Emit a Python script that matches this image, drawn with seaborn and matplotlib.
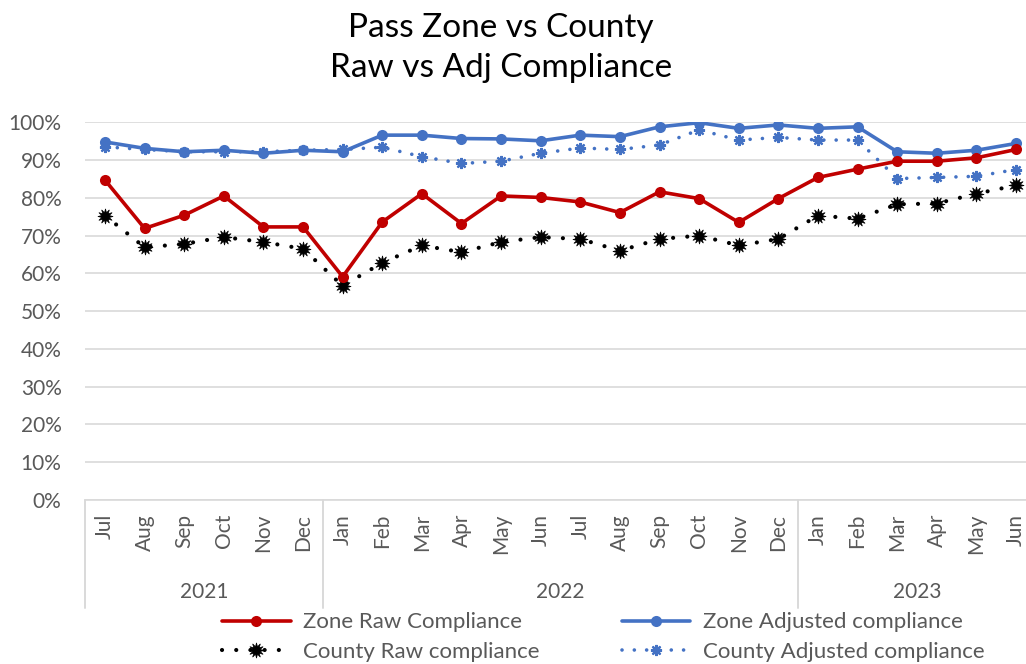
import numpy as np
import pandas as pd
import matplotlib
matplotlib.use("Agg")
import matplotlib.pyplot as plt
import matplotlib.transforms as mtransforms
from matplotlib.ticker import PercentFormatter, MultipleLocator
import seaborn as sns

months = ["Jul", "Aug", "Sep", "Oct", "Nov", "Dec",
          "Jan", "Feb", "Mar", "Apr", "May", "Jun", "Jul", "Aug", "Sep", "Oct", "Nov", "Dec",
          "Jan", "Feb", "Mar", "Apr", "May", "Jun"]
years = ["2021", "2022", "2023"]
months_per_year = [6, 12, 6]

zone_raw = [84.7, 71.9, 75.4, 80.5, 72.3, 72.3, 59.1, 73.6, 81.1, 73.2, 80.5, 80.1,
            78.9, 76.1, 81.6, 79.8, 73.5, 79.8, 85.4, 87.6, 89.7, 89.7, 90.6, 92.8]
zone_adj = [94.8, 93.1, 92.2, 92.6, 91.8, 92.6, 92.2, 96.6, 96.6, 95.7, 95.6, 95.1,
            96.6, 96.2, 98.8, 99.9, 98.4, 99.3, 98.4, 98.8, 92.2, 91.8, 92.6, 94.4]
county_raw = [75.3, 66.9, 67.8, 69.6, 68.3, 66.5, 56.7, 62.8, 67.4, 65.6, 68.3, 69.6,
              69.1, 66.0, 69.1, 70.0, 67.4, 69.1, 75.3, 74.5, 78.3, 78.5, 81.1, 83.3]
county_adj = [93.5, 92.8, 92.2, 92.2, 92.2, 92.6, 92.8, 93.4, 90.9, 89.1, 89.7, 91.8,
              93.2, 92.8, 94.0, 98.0, 95.3, 96.0, 95.3, 95.3, 85.1, 85.4, 85.7, 87.5]

series_names = ["Zone Raw Compliance", "County Raw compliance",
                "Zone Adjusted compliance", "County Adjusted compliance"]

RED = "#C00000"
BLUE = "#4472C4"
GRID = "#D9D9D9"
TEXT = "#595959"

sns.set_theme(style="white")
plt.rcParams["font.family"] = ["Lato", "DejaVu Sans"]

pos = np.arange(len(months))
df = pd.DataFrame({"pos": pos, "zone_raw": zone_raw, "zone_adj": zone_adj,
                   "county_raw": county_raw, "county_adj": county_adj})

fig = plt.figure(figsize=(10.26, 6.64), dpi=100)
ax = fig.add_axes([85.2 / 1026, 164 / 664, 950.6 / 1026, 377.7 / 664])

dotted = (0, (0.01, 3.4))

sns.lineplot(data=df, x="pos", y="county_adj", ax=ax, color=BLUE, lw=2.6,
             linestyle=dotted, dash_capstyle="round", marker=(8, 2, 0),
             markersize=8, markeredgewidth=1.6, markeredgecolor=BLUE,
             label=series_names[3], zorder=2)
sns.lineplot(data=df, x="pos", y="county_raw", ax=ax, color="black", lw=3.0,
             linestyle=dotted, dash_capstyle="round", marker=(12, 1, 0),
             markersize=11, markeredgewidth=0.5, markeredgecolor="black",
             label=series_names[1], zorder=2)
sns.lineplot(data=df, x="pos", y="zone_adj", ax=ax, color=BLUE, lw=2.6,
             marker="o", markersize=8, markeredgewidth=0,
             label=series_names[2], zorder=3)
sns.lineplot(data=df, x="pos", y="zone_raw", ax=ax, color=RED, lw=2.6,
             marker="o", markersize=8, markeredgewidth=0,
             label=series_names[0], zorder=3)

ax.set_xlim(-0.5, len(months) - 0.5)
ax.set_ylim(0, 100)
ax.yaxis.set_major_locator(MultipleLocator(10))
ax.yaxis.set_major_formatter(PercentFormatter(xmax=100, decimals=0))
ax.grid(axis="y", color=GRID, lw=1.2)
ax.set_axisbelow(True)
for side in ["top", "right", "left"]:
    ax.spines[side].set_visible(False)
ax.spines["bottom"].set_color(GRID)
ax.spines["bottom"].set_linewidth(1.2)

ax.set_xticks(pos)
ax.set_xticklabels(months, rotation=90, fontsize=15, color=TEXT)
ax.tick_params(axis="x", length=0, pad=10)
ax.tick_params(axis="y", length=0, pad=17, labelsize=15, labelcolor=TEXT)
ax.set_xlabel("")
ax.set_ylabel("")

# Year grouping below the month labels
trans = mtransforms.blended_transform_factory(ax.transData, ax.transAxes)
edges = np.concatenate([[0], np.cumsum(months_per_year)]) - 0.5
for e in edges:
    ax.plot([e, e], [0, -0.286], transform=trans, color=GRID, lw=1.4,
            clip_on=False, zorder=1)
for i, yr in enumerate(years):
    center = (edges[i] + edges[i + 1]) / 2
    ax.text(center, -0.243, yr, transform=trans, ha="center", va="center",
            fontsize=15, color=TEXT)

ax.legend_.remove()
handles, labels = ax.get_legend_handles_labels()
hmap = dict(zip(labels, handles))
leg = fig.legend([hmap[n] for n in series_names], series_names, ncol=2,
                 loc="center", bbox_to_anchor=(603 / 1026, 1 - 637 / 664),
                 frameon=False, fontsize=16, handlelength=3.1,
                 columnspacing=3.7, handletextpad=0.55, labelspacing=0.42,
                 labelcolor=TEXT, borderpad=0.2)

fig.text(501 / 1026, 1 - 48 / 664, "Pass Zone vs County\nRaw vs Adj Compliance",
         ha="center", va="center", fontsize=24, color="black", linespacing=1.4)

fig.savefig("out.png", dpi=100, facecolor="white")
